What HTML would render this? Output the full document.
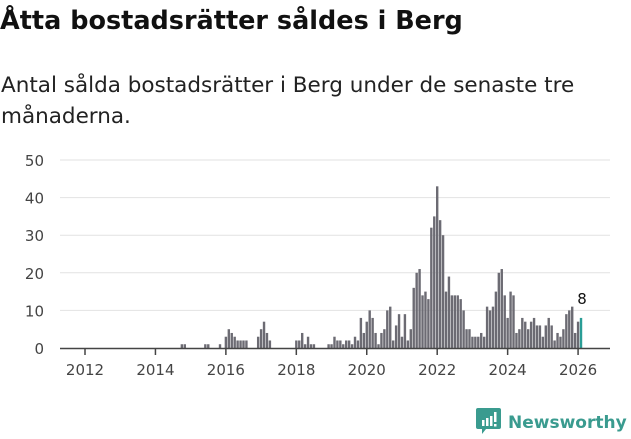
<!DOCTYPE html>
<html><head><meta charset="utf-8"><style>
body{margin:0;background:#fff;width:631px;height:439px;overflow:hidden;font-family:"DejaVu Sans","Liberation Sans",sans-serif}
h1{position:absolute;left:0px;top:6px;margin:0;font-size:25.5px;font-weight:bold;color:#111;white-space:nowrap}
p{position:absolute;left:1px;top:70px;margin:0;font-size:21.5px;line-height:31px;color:#222;width:600px}
svg{position:absolute;left:0;top:0}
</style></head><body>
<h1>Åtta bostadsrätter såldes i Berg</h1>
<p>Antal sålda bostadsrätter i Berg under de senaste tre månaderna.</p>
<svg id="c" width="631" height="439"></svg>
<script>
const yTicks=[0,10,20,30,40,50];
const xTickYears=[2012,2014,2016,2018,2020,2022,2024,2026];
const startYear=2012;
const values=[
0,0,0,0,0,0,0,0,0,0,0,0,
0,0,0,0,0,0,0,0,0,0,0,0,
0,0,0,0,0,0,0,0,0,1,1,0,
0,0,0,0,0,1,1,0,0,0,1,0,
3,5,4,3,2,2,2,2,0,0,0,3,
5,7,4,2,0,0,0,0,0,0,0,0,
2,2,4,1,3,1,1,0,0,0,0,1,
1,3,2,2,1,2,2,1,3,2,8,4,
7,10,8,4,1,4,5,10,11,2,6,9,
3,9,2,5,16,20,21,14,15,13,32,35,
43,34,30,15,19,14,14,14,13,10,5,5,
3,3,3,4,3,11,10,11,15,20,21,14,
8,15,14,4,5,8,7,5,7,8,6,6,
3,6,8,6,2,4,3,5,9,10,11,4,
7,8];
const highlightLabel="8";
const svg=document.getElementById('c');
const NS='http://www.w3.org/2000/svg';
const y0=348,y50=160;
const y=v=>y0-(y0-y50)*v/50;
const pxMonth=2.935, x2012=85;
const x=m=>x2012+m*pxMonth;
const FF='DejaVu Sans, Liberation Sans, sans-serif';
function el(t,a){const e=document.createElementNS(NS,t);for(const k in a)e.setAttribute(k,a[k]);svg.appendChild(e);return e;}
yTicks.forEach(v=>{
 if(v>0){const g=el('line',{x1:60,x2:610,y1:y(v),y2:y(v),stroke:'#e2e2e2','stroke-width':1});
 
 }
 const t=el('text',{x:44,y:y(v)+6,'text-anchor':'end','font-size':15,fill:'#444','font-family':FF});
 t.textContent=v;
 
 
});
values.forEach((v,i)=>{
 if(v<=0)return;
 const last=i===values.length-1;
 const r=el('rect',{x:x(i)-1.2,y:y(v),width:2.4,height:y0-y(v),fill:last?'#2a9d96':'#6c6b73'});
 
 
});
const li=values.length-1;
const lt=el('text',{x:x(li)+1,y:y(values[li])-14,'text-anchor':'middle','font-size':15,fill:'#111','font-family':FF});
lt.textContent=highlightLabel;


const ax=el('line',{x1:60,x2:610,y1:y0+0.5,y2:y0+0.5,stroke:'#444','stroke-width':1.5});


xTickYears.forEach(yr=>{
 const xx=x((yr-startYear)*12);
 const tk=el('line',{x1:xx,x2:xx,y1:y0,y2:y0+7,stroke:'#444','stroke-width':1.5});
 
 
 const t=el('text',{x:xx,y:375,'text-anchor':'middle','font-size':15,fill:'#444','font-family':FF});
 t.textContent=yr;
 
 
});
</script>
<svg width="631" height="439" style="position:absolute;left:0;top:0">
<path d="M478 408h21a2 2 0 0 1 2 2v17a2 2 0 0 1-2 2h-13l-4 5v-5h-4a2 2 0 0 1-2-2v-17a2 2 0 0 1 2-2z" fill="#3a9b8f"/>
<rect x="482" y="420" width="2.5" height="6" fill="#fff"/><rect x="486" y="418" width="2.5" height="8" fill="#fff"/><rect x="490" y="416" width="2.5" height="10" fill="#fff"/><rect x="494" y="412" width="2.5" height="10" fill="#fff"/><rect x="494" y="424" width="2.5" height="2.5" fill="#fff"/>
<text x="508" y="428" font-size="17" font-weight="bold" fill="#3a9b8f" font-family="DejaVu Sans, sans-serif">Newsworthy</text>
</svg>
</body></html>
